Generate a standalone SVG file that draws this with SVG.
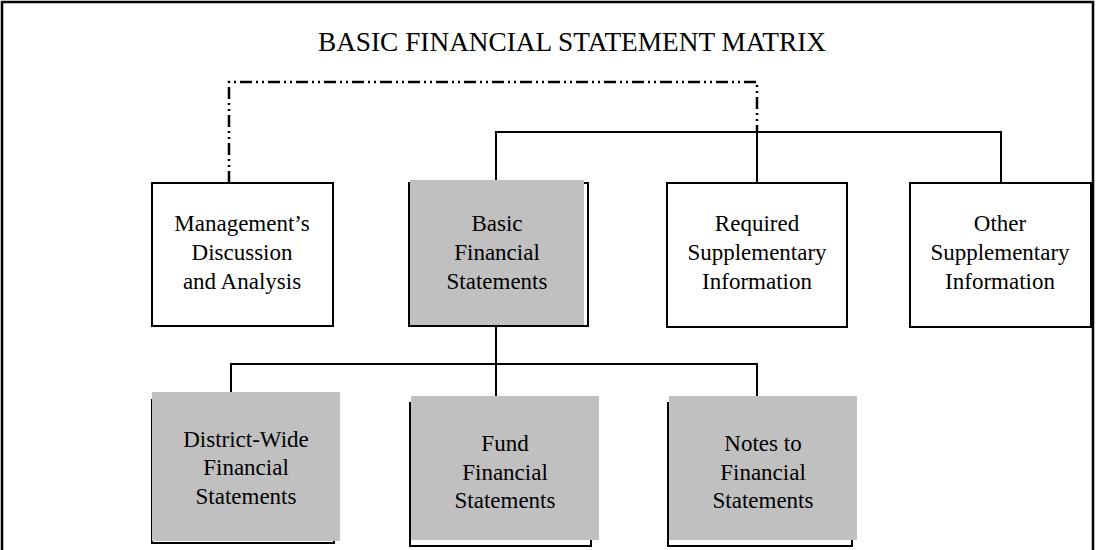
<svg xmlns="http://www.w3.org/2000/svg" width="1096" height="550" viewBox="0 0 1096 550">
<style>
.t{font-family:"Liberation Serif","Times New Roman",serif;font-size:23px;fill:#000;text-anchor:middle}
.title{font-family:"Liberation Serif","Times New Roman",serif;font-size:27.3px;fill:#000;text-anchor:middle}
.box{fill:#fff;stroke:#000;stroke-width:2}
.sh{fill:#fff;stroke:#000;stroke-width:2}
.g{fill:#c0c0c0;stroke:none}
.c{fill:none;stroke:#000;stroke-width:2}
.dd{fill:none;stroke:#000;stroke-width:2.5;stroke-dasharray:12 4 2 4 2 4}
</style>
<rect x="0" y="0" width="1096" height="550" fill="#fff"/>
<polyline points="2,550 2,2 1093,2 1093,550" fill="none" stroke="#000" stroke-width="2.5"/>
<text class="title" x="572" y="51">BASIC FINANCIAL STATEMENT MATRIX</text>
<g id="connectors">
<polyline class="dd" points="229,183 229,82 757,82 757,132"/>
<polyline class="c" points="496,180 496,132 1001,132 1001,183"/>
<line class="c" x1="757" y1="132" x2="757" y2="183"/>
<line class="c" x1="496" y1="326" x2="496" y2="396"/>
<polyline class="c" points="231,392 231,364 757,364 757,396"/>
</g>
<g id="mda">
<rect class="box" x="152" y="183" width="181" height="143"/>
<text class="t" x="242" y="231">Management’s</text>
<text class="t" x="242" y="260">Discussion</text>
<text class="t" x="242" y="289">and Analysis</text>
</g>
<g id="bfs">
<rect class="sh" x="409" y="183" width="179" height="143"/>
<rect class="g" x="410" y="180" width="174" height="145"/>
<text class="t" x="497" y="231">Basic</text>
<text class="t" x="497" y="260">Financial</text>
<text class="t" x="497" y="289">Statements</text>
</g>
<g id="rsi">
<rect class="box" x="667" y="183" width="180" height="144"/>
<text class="t" x="757" y="231">Required</text>
<text class="t" x="757" y="260">Supplementary</text>
<text class="t" x="757" y="289">Information</text>
</g>
<g id="osi">
<rect class="box" x="910" y="183" width="181" height="144"/>
<text class="t" x="1000" y="231">Other</text>
<text class="t" x="1000" y="260">Supplementary</text>
<text class="t" x="1000" y="289">Information</text>
</g>
<g id="dwfs">
<rect class="sh" x="152" y="400" width="182" height="143"/>
<rect class="g" x="152" y="392" width="188" height="149"/>
<text class="t" x="246" y="447">District-Wide</text>
<text class="t" x="246" y="475">Financial</text>
<text class="t" x="246" y="504">Statements</text>
</g>
<g id="ffs">
<rect class="sh" x="410" y="403" width="181" height="143"/>
<rect class="g" x="411" y="396" width="188" height="144"/>
<text class="t" x="505" y="451">Fund</text>
<text class="t" x="505" y="480">Financial</text>
<text class="t" x="505" y="508">Statements</text>
</g>
<g id="nfs">
<rect class="sh" x="668" y="403" width="184" height="143"/>
<rect class="g" x="669" y="396" width="188" height="144"/>
<text class="t" x="763" y="451">Notes to</text>
<text class="t" x="763" y="480">Financial</text>
<text class="t" x="763" y="508">Statements</text>
</g>
</svg>
